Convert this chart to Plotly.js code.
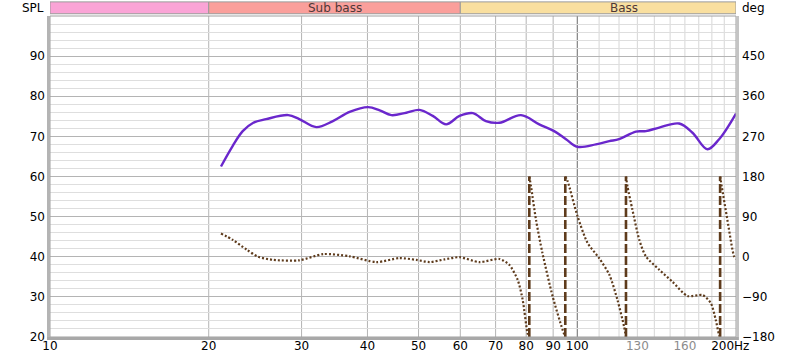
<!DOCTYPE html>
<html>
<head>
<meta charset="utf-8">
<script src="https://cdn.plot.ly/plotly-3.0.1.min.js"></script>
<style>html,body{margin:0;padding:0;background:#fff;}#chart{width:800px;height:360px;}</style>
</head>
<body>
<div id="chart"></div>
<script>
// SPL trace (dB) vs frequency (Hz)
const splFreq = [21.1, 22.2, 23.2, 24.3, 25.7, 28.3, 29.7, 32.0, 34.4, 37.0, 40.1, 42.2, 44.4, 47.4, 50.2, 53.2, 56.4, 59.8, 63.4, 67.1, 71.2, 78.2, 84.7, 90.4, 95.2, 100.1, 108.5, 115, 120, 129.2, 134.9, 143, 156, 165.4, 176.5, 185.8, 200];
const splValues = [62.5, 67.6, 71.3, 73.4, 74.3, 75.3, 74.3, 72.3, 73.8, 76.1, 77.3, 76.5, 75.3, 75.9, 76.6, 75.1, 73.0, 75.1, 75.8, 73.8, 73.4, 75.3, 73.0, 71.3, 69.3, 67.4, 68.0, 68.8, 69.3, 71.2, 71.3, 72.2, 73.2, 70.9, 66.8, 69.3, 75.7];

// Wrapped phase (deg) vs frequency (Hz); null separates wrapped segments
const phaseFreq = [21.1, 22.2, 23.6, 24.8, 26.5, 29.7, 33.0, 37.0, 41.6, 46.0, 49.5, 52.5, 56.0, 59.8, 65.2, 71.2, 74.3, 77.1, 78.8, 80.5, 81.1, null,
  81.1, 81.7, 83.5, 85.9, 89.8, 93.8, 94.9, null,
  94.9, 95.9, 100.1, 104.6, 110, 115, 119.2, 122.7, 123.7, null,
  123.7, 124.5, 127.2, 131.1, 134.9, 143, 151.5, 161.8, 172.8, 179.2, 183.1, 185.8, 186.6, null,
  186.6, 187.9, 192.6, 198.3, 200];
const phaseValues = [52, 38, 16, 0, -7, -8, 6, 1, -12, -3, -7, -12, -6, -1, -12, -5, -18, -52, -97, -172, -180, null,
  180, 158, 83, 8, -89, -164, -180, null,
  180, 169, 91, 31, -3, -40, -97, -157, -180, null,
  180, 158, 106, 38, 1, -29, -56, -88, -86, -104, -142, -176, -180, null,
  180, 158, 83, 1, -5];

// Frequencies where the phase wraps from -180 to +180
const wrapFreqs = [81.1, 94.9, 123.7, 186.6];
const wrapLimits = [-180, 180];

// Frequency bands shown in the strip above the plot
const bandLow = [10, 20, 60];
const bandHigh = [20, 60, 250];
const bandNames = ['', 'Sub bass', 'Bass'];
const bandColors = ['#faa4d6', '#fa9f9b', '#f9df9f'];

// Axis ticks
const xTickVals = [10, 20, 30, 40, 50, 60, 70, 80, 90, 100, 130, 160, 200];
const xTickText = ['10', '20', '30', '40', '50', '60', '70', '80', '90', '100',
  '<span style="color:#8c8c8c">130</span>', '<span style="color:#8c8c8c">160</span>', '200Hz&nbsp;&nbsp;&nbsp;'];
const splTickVals = [20, 30, 40, 50, 60, 70, 80, 90];
const degTickVals = [-180, -90, 0, 90, 180, 270, 360, 450];
const gridMid = [20, 30, 40, 50, 60, 70, 80, 90];
const gridDecade = [100];
const gridFine = [110, 120, 130, 140, 150, 160, 170, 180, 190];

const xMin = 10, xMax = 200;
const splRange = [20, 100];
const degRange = [-180, 540];

// Build wrap line coordinates
const wrapX = [], wrapY = [];
wrapFreqs.forEach(f => { wrapX.push(f, f, null); wrapY.push(wrapLimits[0], wrapLimits[1], null); });

const traces = [
  {x: phaseFreq, y: phaseValues, yaxis: 'y2', type: 'scatter', mode: 'lines',
   line: {color: '#5e3b1c', width: 2.2, dash: '2px,2px', shape: 'spline', smoothing: 0.7},
   connectgaps: false, hoverinfo: 'skip'},
  {x: wrapX, y: wrapY, yaxis: 'y2', type: 'scatter', mode: 'lines',
   line: {color: '#5e3b1c', width: 2.6, dash: '9px,3px'}, connectgaps: false, hoverinfo: 'skip'},
  {x: splFreq, y: splValues, type: 'scatter', mode: 'lines',
   line: {color: '#6a27cc', width: 2.4, shape: 'spline', smoothing: 1}, hoverinfo: 'skip'}
];

const shapes = [];
function vgrid(vals, color, width) {
  vals.forEach(v => shapes.push({type: 'line', xref: 'x', yref: 'paper', x0: v, x1: v, y0: 0, y1: 1,
    line: {color: color, width: width}, layer: 'below'}));
}
vgrid(gridMid, '#b4b4b4', 1);
vgrid(gridFine, '#d6d6d6', 1);
vgrid(gridDecade, '#6a6a6a', 1);

// frame and shadow
shapes.push({type: 'rect', xref: 'paper', yref: 'paper', x0: 0, x1: 1, y0: 0, y1: 1, line: {color: '#a0a0a0', width: 1}, layer: 'above'});
shapes.push({type: 'rect', xref: 'paper', yref: 'paper', xsizemode: 'pixel', xanchor: 0, x0: -3, x1: 0, y0: -0.009, y1: 1, fillcolor: '#b4b4b4', line: {width: 0}});
shapes.push({type: 'rect', xref: 'paper', yref: 'paper', xsizemode: 'pixel', xanchor: 1, x0: 0, x1: 3, y0: -0.009, y1: 1, fillcolor: '#c4c4c4', line: {width: 0}});
shapes.push({type: 'rect', xref: 'paper', yref: 'paper', ysizemode: 'pixel', yanchor: 0, y0: -3, y1: 0, x0: -0.004, x1: 1.004, fillcolor: '#a8a8a8', line: {width: 0}});

const annotations = [];
bandLow.forEach((lo, i) => {
  const hi = Math.min(bandHigh[i], xMax);
  shapes.push({type: 'rect', xref: 'x', yref: 'paper', x0: lo, x1: hi, y0: 1.007, y1: 1.044,
    fillcolor: bandColors[i], line: {color: '#9a9a9a', width: 1}});
  if (bandNames[i]) {
    annotations.push({xref: 'x', yref: 'paper', x: Math.log10(Math.sqrt(lo * bandHigh[i])), y: 1.0255,
      text: bandNames[i], showarrow: false, xanchor: 'center', yanchor: 'middle',
      font: {family: 'DejaVu Sans', size: 12, color: '#4e3838'}});
  }
});
annotations.push({xref: 'paper', yref: 'paper', x: 0, y: 1, xanchor: 'right', yanchor: 'middle', xshift: -4, yshift: 8,
  text: 'SPL', showarrow: false, font: {family: 'DejaVu Sans', size: 12, color: '#000'}});
annotations.push({xref: 'paper', yref: 'paper', x: 1, y: 1, xanchor: 'left', yanchor: 'middle', xshift: 4, yshift: 8,
  text: 'deg', showarrow: false, font: {family: 'DejaVu Sans', size: 12, color: '#000'}});

const layout = {
  width: 800, height: 360,
  margin: {l: 50, r: 64, t: 16, b: 23, pad: 0},
  paper_bgcolor: '#ffffff', plot_bgcolor: '#ffffff',
  showlegend: false,
  font: {family: 'DejaVu Sans', size: 12, color: '#000'},
  xaxis: {type: 'log', range: [Math.log10(xMin), Math.log10(xMax)], tickmode: 'array',
    tickvals: xTickVals, ticktext: xTickText, showgrid: false, zeroline: false, showline: false,
    ticks: '', tickfont: {family: 'DejaVu Sans', size: 12, color: '#000'}, fixedrange: true},
  yaxis: {range: splRange, tickmode: 'array', tickvals: splTickVals, showgrid: true,
    gridcolor: '#b4b4b4', gridwidth: 1, zeroline: false, showline: false, ticks: '',
    minor: {tickmode: 'linear', tick0: 20, dtick: 2, showgrid: true, gridcolor: '#dedede', gridwidth: 1, ticks: ''},
    tickfont: {family: 'DejaVu Sans', size: 12, color: '#000'}, ticklabelstandoff: 4, fixedrange: true},
  yaxis2: {range: degRange, overlaying: 'y', side: 'right', tickmode: 'array', tickvals: degTickVals,
    showgrid: false, zeroline: false, showline: false, ticks: '',
    tickfont: {family: 'DejaVu Sans', size: 12, color: '#000'}, ticklabelstandoff: 5, fixedrange: true},
  shapes: shapes,
  annotations: annotations
};

Plotly.newPlot('chart', traces, layout, {staticPlot: true, displayModeBar: false});
</script>
</body>
</html>
